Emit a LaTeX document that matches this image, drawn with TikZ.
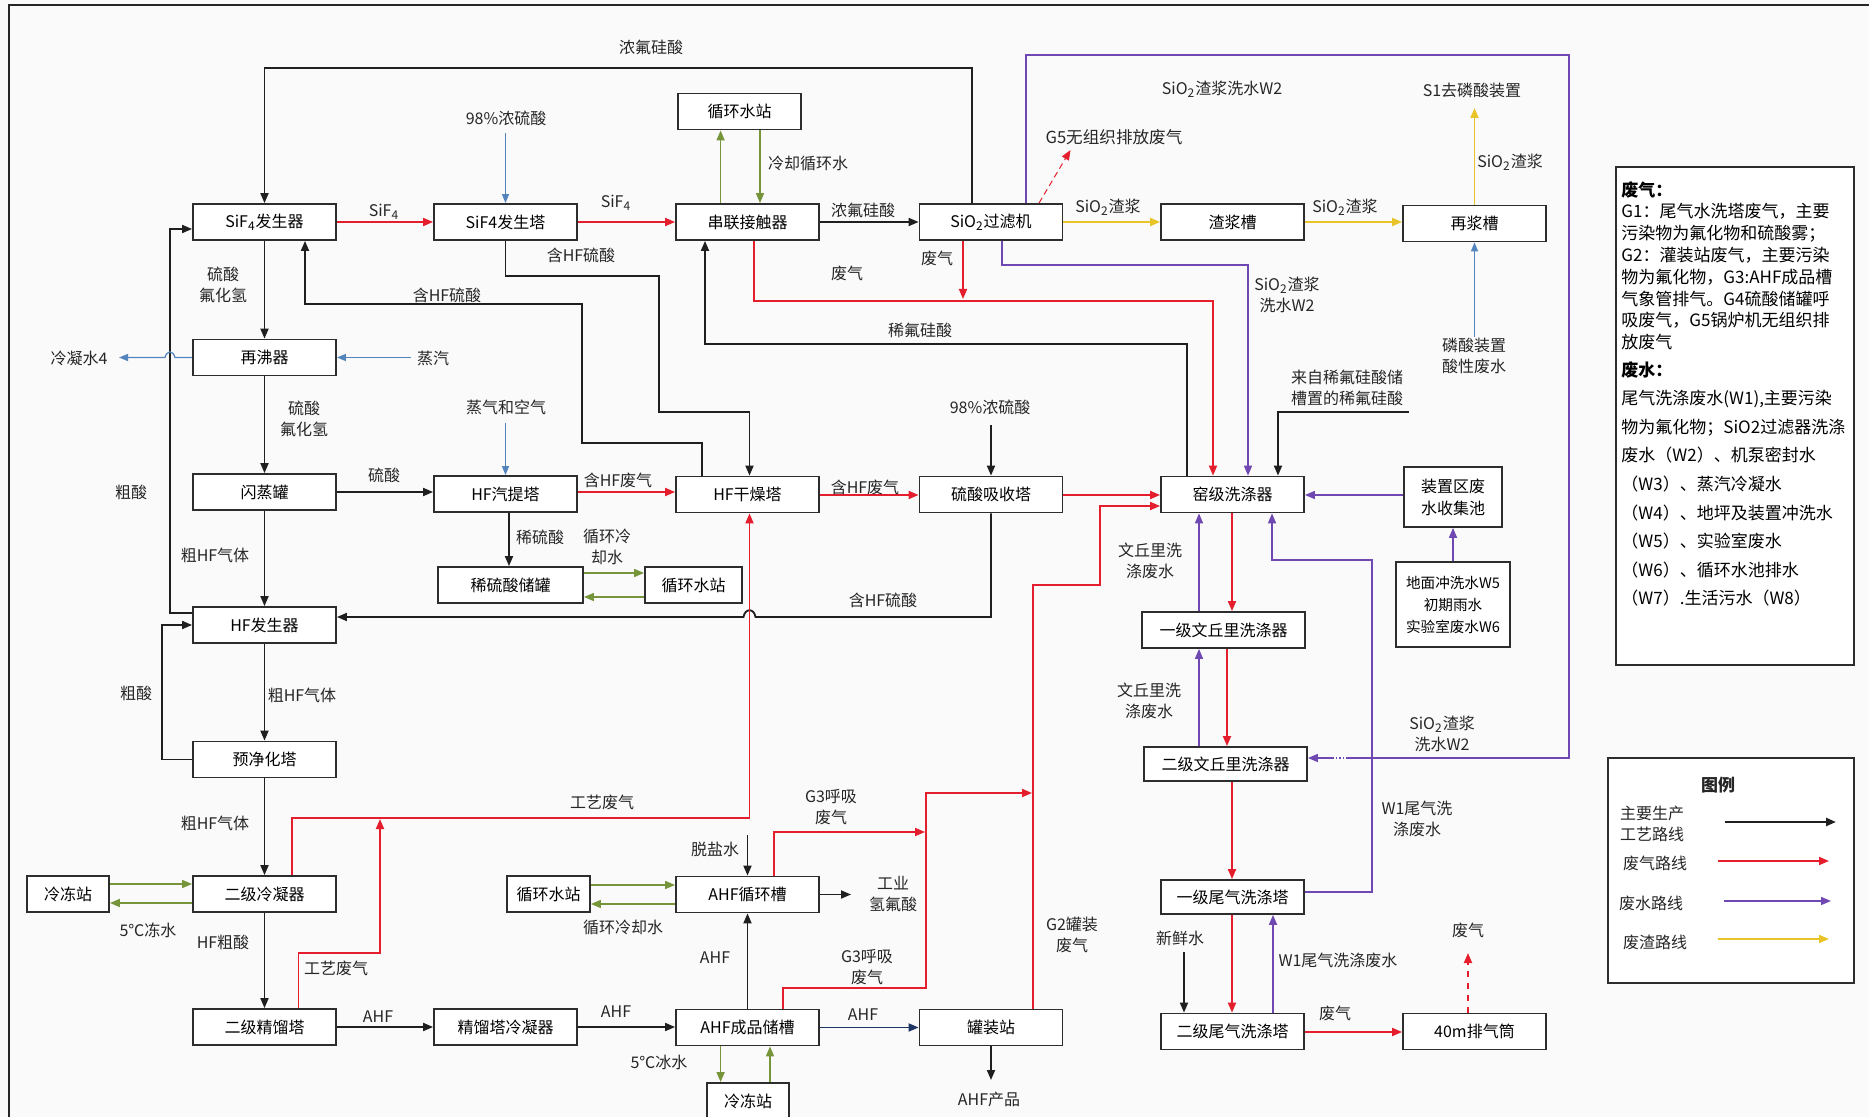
\documentclass[tikz,border=0pt]{standalone}
\usepackage{fontspec}
\setmainfont{Noto Sans CJK SC}
\usetikzlibrary{arrows.meta}
\definecolor{redc}{RGB}{228,30,45}
\definecolor{purc}{RGB}{112,72,178}
\definecolor{yelc}{RGB}{232,196,40}
\definecolor{grnc}{RGB}{118,148,58}
\definecolor{bluc}{RGB}{84,132,190}
\definecolor{navc}{RGB}{30,52,100}
\definecolor{boxc}{RGB}{45,45,45}
\definecolor{bgc}{RGB}{250,250,250}
\begin{document}
\begin{tikzpicture}[x=0.5pt,y=-0.5pt,
  box/.style={draw=boxc, line width=0.9pt, fill=white, inner sep=0pt, minimum height=18pt, minimum width=71.5pt, font=\fontsize{8}{9.5}\selectfont, align=center},
  lbl/.style={inner sep=0pt, align=center, font=\fontsize{8}{10.5}\selectfont, text=black!85},
  blk/.style={draw=black!88, line width=0.9pt, -{Triangle[length=5pt,width=4pt]}},
  redl/.style={draw=redc, line width=0.9pt, -{Triangle[length=5pt,width=4pt]}},
  pur/.style={draw=purc, line width=0.8pt, -{Triangle[length=5pt,width=4pt]}},
  yel/.style={draw=yelc, line width=0.9pt, -{Triangle[length=5pt,width=4pt]}},
  grn/.style={draw=grnc, line width=0.8pt, -{Triangle[length=5pt,width=4pt]}},
  blu/.style={draw=bluc, line width=0.6pt, -{Triangle[length=4.5pt,width=3.5pt]}},
  nav/.style={draw=navc, line width=0.9pt, -{Triangle[length=5pt,width=4pt]}},
  frm/.style={draw=black!85, line width=0.9pt}
]
\useasboundingbox (0,0) rectangle (1869,1117);
\fill[bgc] (0,0) rectangle (1869,1117);
\draw[frm] (9,1125) -- (9,5) -- (1875,5);

% ---------------- boxes ----------------
\node[box] (sifg) at (264.5,222) {SiF\textsubscript{4}发生器};
\node[box] (sifs) at (505.5,222) {SiF4发生塔};
\node[box] (cljc) at (747.5,222) {串联接触器};
\node[box] (sio2f) at (991,222) {SiO\textsubscript{2}过滤机};
\node[box] (zjc) at (1232.5,222) {渣浆槽};
\node[box] (zjc2) at (1474.5,223.5) {再浆槽};
\node[box, minimum width=61.5pt] (xhs1) at (739.5,111.5) {循环水站};
\node[box] (zfq) at (264.5,357.5) {再沸器};
\node[box] (sz) at (264.5,492) {闪蒸罐};
\node[box] (hfq) at (505.5,494) {HF汽提塔};
\node[box] (hfgz) at (747.5,494.5) {HF干燥塔};
\node[box] (lsxs) at (991,494.5) {硫酸吸收塔};
\node[box] (yjx) at (1232.5,494.5) {窑级洗涤器};
\node[box, minimum width=49pt, minimum height=30pt, font=\fontsize{8}{11}\selectfont] (zzq) at (1453,497) {装置区废\\水收集池};
\node[box, minimum width=57pt, minimum height=42.5pt, font=\fontsize{7.3}{11}\selectfont] (dm) at (1453,604.5) {地面冲洗水W5\\初期雨水\\实验室废水W6};
\node[box, minimum width=72.5pt] (xls) at (510.5,585) {稀硫酸储罐};
\node[box, minimum width=48.5pt] (xhs2) at (693.5,585) {循环水站};
\node[box] (hfg) at (264.5,625) {HF发生器};
\node[box, minimum width=81.5pt] (ywq) at (1223.5,630) {一级文丘里洗涤器};
\node[box] (yjh) at (264.5,759.5) {预净化塔};
\node[box, minimum width=81.5pt, minimum height=17pt] (ewq) at (1225.5,764) {二级文丘里洗涤器};
\node[box, minimum width=41pt] (ldz1) at (68,894) {冷冻站};
\node[box] (ejl) at (264.5,894) {二级冷凝器};
\node[box, minimum width=41.5pt] (xhs3) at (548.5,894) {循环水站};
\node[box] (ahfx) at (747.5,894.5) {AHF循环槽};
\node[box, minimum height=17pt] (ywx) at (1232.5,897) {一级尾气洗涤塔};
\node[box] (ejj) at (264.5,1027) {二级精馏塔};
\node[box] (jlq) at (505.5,1027) {精馏塔冷凝器};
\node[box] (ahfc) at (747.5,1027.5) {AHF成品储槽};
\node[box] (gzz) at (991,1027.5) {罐装站};
\node[box] (ewx) at (1232.5,1031.5) {二级尾气洗涤塔};
\node[box] (pqt) at (1474.5,1031.5) {40m排气筒};
\node[box, minimum width=41pt] (ldz2) at (748,1101) {冷冻站};

% ---------------- free ends ----------------
\coordinate (tsw) at (747.5,835);
\coordinate (gyq) at (851,894.5);
\coordinate (ahfp) at (991,1080);
\coordinate (c98b) at (991,425);
\coordinate (lfs) at (1408.5,412);
\coordinate (xxs) at (1184,952);
\coordinate (g5) at (1070.5,150);
\coordinate (fq3) at (1468,953);
\coordinate (s1) at (1474.5,108);
\coordinate (b98) at (505.5,133);
\coordinate (lns) at (119,357.5);
\coordinate (zq) at (411,357.5);
\coordinate (zqk) at (505.5,423);
\coordinate (lsf) at (1474.5,337);

% ---------------- black (main process) ----------------
\draw[blk] (sio2f.north -| 972,0) |- (264.5,68) -- (sifg.north);
\draw[blk] (sifg) -- (zfq);
\draw[blk] (zfq) -- (sz);
\draw[blk] (sz.east) -- (sz.east -| hfq.west);
\draw[blk] (sz) -- (hfg);
\draw[blk] (hfg) -- (yjh);
\draw[blk] (yjh) -- (ejl);
\draw[blk] (ejl) -- (ejj);
\draw[blk] (ejj) -- (jlq);
\draw[blk] (jlq.east) -- (jlq.east -| ahfc.west);
\draw[blk] (ahfc) -- (ahfx);
\draw[blk] (tsw) -- (ahfx.north);
\draw[blk] (ahfx.east) -- (gyq);
\draw[blk] (gzz.south) -- (ahfp);
\draw[blk] (hfq.south -| 509,0) -- (xls.north -| 509,0);
\draw[blk] (c98b) -- (lsxs.north);
\draw[blk] (lsxs.south) -- (991,617) -- (755.5,617) .. controls (754,608) and (745,608) .. (743.5,617) -- (hfg.east |- 0,617);
\draw[blk] (sifs.south) -- (505.5,276) -- (659,276) -- (659,412) -- (749.5,412) -- (hfgz.north -| 749.5,0);
\draw[blk] (hfgz.north -| 702,0) -- (702,443) -- (582,443) -- (582,304) -- (305,304) -- (sifg.south -| 305,0);
\draw[blk] (hfg.west |- 0,613) -- (170,613) -- (170,229) -- (sifg.west |- 0,229);
\draw[blk] (yjh.west) -- (162,759.5) -- (162,625) -- (hfg.west);
\draw[blk] (cljc) -- (sio2f);
\draw[blk] (yjx.north -| 1187,0) -- (1187,344) -- (705,344) -- (cljc.south -| 705,0);
\draw[blk] (lfs) -- (1278,412) -- (yjx.north -| 1278,0);
\draw[blk] (xxs) -- (ewx.north -| 1184,0);

% ---------------- red (waste gas) ----------------
\draw[redl] (sifg) -- (sifs);
\draw[redl] (sifs) -- (cljc);
\draw[redl] (hfq.east |- 0,492) -- (hfgz.west |- 0,492);
\draw[redl] (hfgz.east |- 0,495) -- (lsxs.west |- 0,495);
\draw[redl] (lsxs.east |- 0,495) -- (yjx.west |- 0,495);
\draw[redl] (cljc.south -| 754,0) -- (754,301) -- (1213,301) -- (yjx.north -| 1213,0);
\draw[redl] (sio2f.south -| 963,0) -- (963,299);
\draw[redl, line width=0.5pt, densely dashed] (sio2f.north -| 1039,0) -- (g5);
\draw[redl] (ejl.north -| 292,0) -- (292,818) -- (749.5,818) -- (hfgz.south -| 749.5,0);
\draw[redl] (ejj.north -| 298.5,0) -- (298.5,953) -- (380,953) -- (380,819);
\draw[redl] (ahfx.north -| 774,0) -- (774,832) -- (925,832);
\draw[redl] (ahfc.north -| 783,0) -- (783,988) -- (926,988) -- (926,793) -- (1032,793);
\draw[redl] (gzz.north -| 1033,0) -- (1033,585) -- (1100,585) -- (1100,506) -- (yjx.west |- 0,506);
\draw[redl] (yjx.south -| 1232,0) -- (ywq.north -| 1232,0);
\draw[redl] (ywq.south -| 1227,0) -- (ewq.north -| 1227,0);
\draw[redl] (ewq.south -| 1232,0) -- (ywx.north -| 1232,0);
\draw[redl] (ywx.south -| 1232,0) -- (ewx.north -| 1232,0);
\draw[redl] (ewx.east |- 0,1032) -- (pqt.west |- 0,1032);
\draw[redl, dashed] (pqt.north -| 1468,0) -- (fq3);

% ---------------- purple (waste water) ----------------
\draw[pur] (sio2f.south -| 1002,0) -- (1002,265) -- (1248,265) -- (yjx.north -| 1248,0);
\draw[pur, -] (sio2f.north -| 1026,0) -- (1026,55) -- (1569,55) -- (1569,758) -- (1348,758);
\draw[pur, -, densely dotted] (1348,758) -- (1332,758);
\draw[pur] (1332,758) -- (ewq.east |- 0,758);
\draw[pur] (zzq.west |- 0,495) -- (yjx.east |- 0,495);
\draw[pur] (dm.north) -- (zzq.south);
\draw[pur] (ywq.north -| 1199,0) -- (yjx.south -| 1199,0);
\draw[pur] (ewq.north -| 1199,0) -- (ywq.south -| 1199,0);
\draw[pur] (ywx.east |- 0,892) -- (1372,892) -- (1372,560) -- (1272,560) -- (yjx.south -| 1272,0);
\draw[pur] (ewx.north -| 1273,0) -- (ywx.south -| 1273,0);

% ---------------- yellow (waste residue) ----------------
\draw[yel] (sio2f) -- (zjc);
\draw[yel] (zjc.east) -- (zjc.east -| zjc2.west);
\draw[yel] (zjc2.north) -- (s1);

% ---------------- blue ----------------
\draw[blu] (b98) -- (sifs.north);
\draw[blu] (zfq.west) -- (175,357.5) .. controls (173,350) and (167,350) .. (165,357.5) -- (lns);
\draw[blu] (zq) -- (zfq.east);
\draw[blu] (zqk) -- (hfq.north);
\draw[blu] (lsf) -- (zjc2.south);
\draw[nav] (ahfc.east) -- (gzz.west);

% ---------------- green (cooling water) ----------------
\draw[grn] (cljc.north -| 720.6,0) -- (xhs1.south -| 720.6,0);
\draw[grn] (xhs1.south -| 760,0) -- (cljc.north -| 760,0);
\draw[grn] (xls.east |- 0,573) -- (xhs2.west |- 0,573);
\draw[grn] (xhs2.west |- 0,597) -- (xls.east |- 0,597);
\draw[grn] (ldz1.east |- 0,884) -- (ejl.west |- 0,884);
\draw[grn] (ejl.west |- 0,903) -- (ldz1.east |- 0,903);
\draw[grn] (xhs3.east |- 0,885) -- (ahfx.west |- 0,885);
\draw[grn] (ahfx.west |- 0,904) -- (xhs3.east |- 0,904);
\draw[grn] (ahfc.south -| 720.6,0) -- (ldz2.north -| 720.6,0);
\draw[grn] (ldz2.north -| 770,0) -- (ahfc.south -| 770,0);

% ---------------- labels ----------------
\node[lbl] (t01) at (651,47) {浓氟硅酸};
\node[lbl] (t02) at (506,118) {98\%浓硫酸};
\node[lbl] (t03) at (384,212) {SiF\textsubscript{4}};
\node[lbl] (t04) at (616,203) {SiF\textsubscript{4}};
\node[lbl] (t05) at (808,163) {冷却循环水};
\node[lbl] (t06) at (863,210) {浓氟硅酸};
\node[lbl, font=\fontsize{8.3}{10}\selectfont] (t07) at (1114,137) {G5无组织排放废气};
\node[lbl] (t08) at (1222,89) {SiO\textsubscript{2}渣浆洗水W2};
\node[lbl] (t09) at (1472,90) {S1去磷酸装置};
\node[lbl] (t10) at (1510,162) {SiO\textsubscript{2}渣浆};
\node[lbl] (t11) at (1108,207) {SiO\textsubscript{2}渣浆};
\node[lbl] (t12) at (1345,207) {SiO\textsubscript{2}渣浆};
\node[lbl] (t13) at (223,285) {硫酸\\氟化氢};
\node[lbl] (t14) at (581,255) {含HF硫酸};
\node[lbl] (t15) at (447,295) {含HF硫酸};
\node[lbl] (t16) at (847,273) {废气};
\node[lbl] (t17) at (937,258) {废气};
\node[lbl] (t18) at (920,330) {稀氟硅酸};
\node[lbl] (t19) at (1287,295) {SiO\textsubscript{2}渣浆\\洗水W2};
\node[lbl] (t20) at (1474,356) {磷酸装置\\酸性废水};
\node[lbl] (t21) at (79,358) {冷凝水4};
\node[lbl] (t22) at (433,358) {蒸汽};
\node[lbl] (t23) at (304,419) {硫酸\\氟化氢};
\node[lbl] (t24) at (506,407) {蒸气和空气};
\node[lbl] (t25) at (1347,388) {来自稀氟硅酸储\\槽置的稀氟硅酸};
\node[lbl] (t26) at (131,492) {粗酸};
\node[lbl] (t27) at (384,475) {硫酸};
\node[lbl] (t28) at (618,480) {含HF废气};
\node[lbl] (t29) at (865,487) {含HF废气};
\node[lbl] (t30) at (990,407) {98\%浓硫酸};
\node[lbl] (t31) at (540,537) {稀硫酸};
\node[lbl] (t32) at (607,547) {循环冷\\却水};
\node[lbl] (t33) at (215,555) {粗HF气体};
\node[lbl] (t34) at (883,600) {含HF硫酸};
\node[lbl] (t35) at (1150,561) {文丘里洗\\涤废水};
\node[lbl] (t36) at (136,693) {粗酸};
\node[lbl] (t37) at (302,695) {粗HF气体};
\node[lbl] (t38) at (1149,701) {文丘里洗\\涤废水};
\node[lbl] (t39) at (1442,734) {SiO\textsubscript{2}渣浆\\洗水W2};
\node[lbl] (t40) at (602,802) {工艺废气};
\node[lbl] (t41) at (215,823) {粗HF气体};
\node[lbl] (t42) at (831,807) {G3呼吸\\废气};
\node[lbl] (t43) at (1417,819) {W1尾气洗\\涤废水};
\node[lbl] (t44) at (715,849) {脱盐水};
\node[lbl] (t45) at (893,894) {工业\\氢氟酸};
\node[lbl] (t46) at (623,927) {循环冷却水};
\node[lbl] (t47) at (148,930) {5℃冻水};
\node[lbl] (t48) at (223,942) {HF粗酸};
\node[lbl] (t49) at (1072,935) {G2罐装\\废气};
\node[lbl] (t50) at (1180,938) {新鲜水};
\node[lbl] (t51) at (1468,930) {废气};
\node[lbl] (t52) at (715,958) {AHF};
\node[lbl] (t53) at (1338,960) {W1尾气洗涤废水};
\node[lbl] (t54) at (867,967) {G3呼吸\\废气};
\node[lbl] (t55) at (336,968) {工艺废气};
\node[lbl] (t56) at (1335,1013) {废气};
\node[lbl] (t57) at (378,1017) {AHF};
\node[lbl] (t58) at (616,1012) {AHF};
\node[lbl] (t59) at (863,1015) {AHF};
\node[lbl] (t60) at (659,1062) {5℃冰水};
\node[lbl] (t61) at (989,1099) {AHF产品};

% ---------------- legend 1 ----------------
\node[draw=boxc, line width=0.9pt, fill=white, inner sep=0pt, minimum width=119pt, minimum height=249pt] (leg1) at (1735,416) {};
\node[anchor=north west, inner sep=0pt, align=left, font=\fontsize{8.5}{10.9}\selectfont] (leg1a) at (1621,181) {\textbf{废气：}\\G1：尾气水洗塔废气，主要\\污染物为氟化物和硫酸雾；\\G2：灌装站废气，主要污染\\物为氟化物，G3:AHF成品槽\\气象管排气。G4硫酸储罐呼\\吸废气，G5锅炉机无组织排\\放废气};
\node[anchor=north west, inner sep=0pt, align=left, font=\fontsize{8.5}{14.3}\selectfont] (leg1b) at (1621,361) {\textbf{废水：}\\尾气洗涤废水(W1),主要污染\\物为氟化物；SiO2过滤器洗涤\\废水（W2）、机泵密封水\\（W3）、蒸汽冷凝水\\（W4）、地坪及装置冲洗水\\（W5）、实验室废水\\（W6）、循环水池排水\\（W7）.生活污水（W8）};

% ---------------- legend 2 ----------------
\node[draw=boxc, line width=0.9pt, fill=white, inner sep=0pt, minimum width=123pt, minimum height=112.5pt] (leg2) at (1731,870.5) {};
\node[lbl, font=\fontsize{8.5}{10}\selectfont\bfseries] (lgt) at (1718,785) {图例};
\node[lbl] (lg1t) at (1652,824) {主要生产\\工艺路线};
\node[lbl] (lg2t) at (1655,863) {废气路线};
\node[lbl] (lg3t) at (1651,903) {废水路线};
\node[lbl] (lg4t) at (1655,942) {废渣路线};
\coordinate (lg1a) at (1725,822); \coordinate (lg1b) at (1836,822);
\coordinate (lg2a) at (1718,861); \coordinate (lg2b) at (1829,861);
\coordinate (lg3a) at (1724,901); \coordinate (lg3b) at (1831,901);
\coordinate (lg4a) at (1718,939); \coordinate (lg4b) at (1829,939);
\draw[blk, line width=1.2pt] (lg1a) -- (lg1b);
\draw[redl] (lg2a) -- (lg2b);
\draw[pur] (lg3a) -- (lg3b);
\draw[yel] (lg4a) -- (lg4b);
\end{tikzpicture}
\end{document}
